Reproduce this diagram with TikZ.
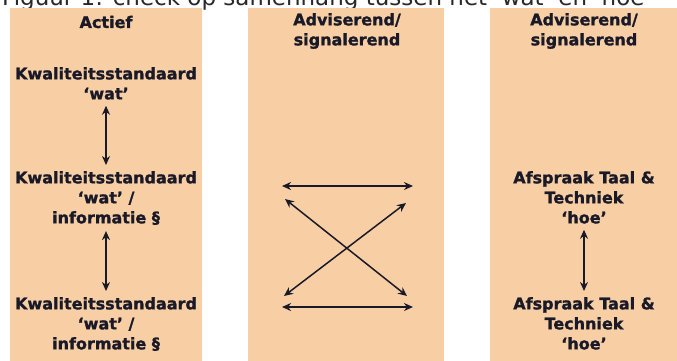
\documentclass[tikz,border=0pt]{standalone}
\usepackage{fontspec}
\setmainfont{DejaVu Sans}
\newfontfamily\heavyfont{DejaVu Sans Bold}[FakeBold=1.3]
\usetikzlibrary{arrows.meta}
\definecolor{peach}{RGB}{248,206,164}
\definecolor{ink}{RGB}{25,25,40}
\definecolor{titleink}{RGB}{40,40,40}
\begin{document}
\begin{tikzpicture}[x=1pt,y=-1pt,
  colbox/.style={fill=peach,draw=none},
  lbl/.style={font=\heavyfont\fontsize{16}{20}\selectfont,text=ink,align=center,inner sep=0pt},
  link/.style={draw=ink,line width=1.5pt,{Stealth[length=9pt,width=8pt]}-{Stealth[length=9pt,width=8pt]}}]
\useasboundingbox (0,0) rectangle (677,360);
\begin{scope}
\clip (0,0) rectangle (677,360);
\fill[white] (0,0) rectangle (677,360);
\node[font=\fontsize{23}{26}\selectfont,text=titleink,anchor=base,inner sep=0pt] (title) at (327,5) {Figuur 1: check op samenhang tussen het ‘wat’ en ‘hoe’};
\path[colbox] (10,8) rectangle (202,365);
\path[colbox] (248,8) rectangle (444,365);
\path[colbox] (490,8) rectangle (680,365);
\end{scope}
% left column
\node[lbl] (hA) at (106,22) {Actief};
\node[lbl,anchor=north] (a1) at (106,67) {Kwaliteitsstandaard\\‘wat’};
\node[lbl,anchor=north] (a2) at (106,171) {Kwaliteitsstandaard\\‘wat’ /\\informatie §};
\node[lbl,anchor=north] (a3) at (106,297) {Kwaliteitsstandaard\\‘wat’ /\\informatie §};
\draw[link] ([yshift=-6pt]a1.south) -- ([yshift=6pt]a2.north);
\draw[link] ([yshift=-6pt]a2.south) -- ([yshift=6pt]a3.north);
% middle column
\node[lbl] (hB) at (347,31) {Adviserend/\\signalerend};
\coordinate (m1) at (282,186);
\coordinate (m2) at (413,186);
\coordinate (m3) at (285,199);
\coordinate (m4) at (407,296);
\coordinate (m5) at (406,203);
\coordinate (m6) at (284,296);
\coordinate (m7) at (282,307);
\coordinate (m8) at (413,307);
\draw[link] (m1) -- (m2);
\draw[link] (m3) -- (m4);
\draw[link] (m5) -- (m6);
\draw[link] (m7) -- (m8);
% right column
\node[lbl] (hC) at (584,31) {Adviserend/\\signalerend};
\node[lbl,anchor=north] (c1) at (584,171) {Afspraak Taal \&\\Techniek\\‘hoe’};
\node[lbl,anchor=north] (c2) at (584,297) {Afspraak Taal \&\\Techniek\\‘hoe’};
\draw[link] ([yshift=-6pt]c1.south) -- ([yshift=6pt]c2.north);
\end{tikzpicture}
\end{document}
